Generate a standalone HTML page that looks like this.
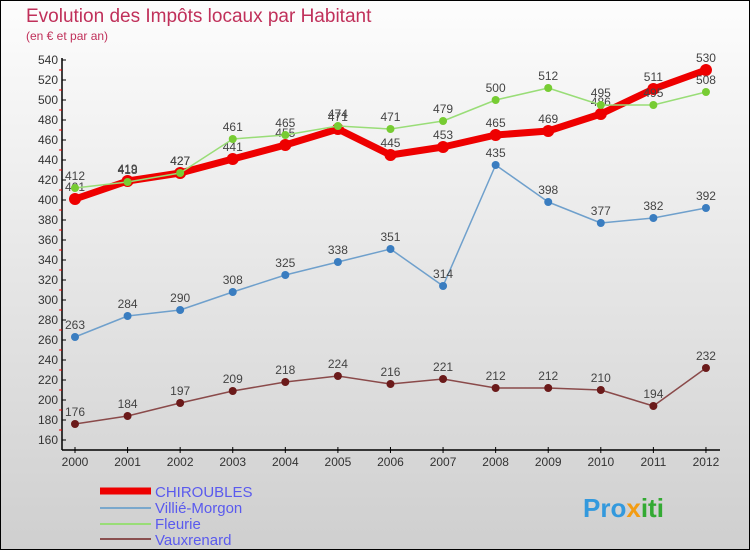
<!DOCTYPE html>
<html><head><meta charset="utf-8"><style>
body{margin:0;width:750px;height:550px;overflow:hidden}
svg{display:block;font-family:"Liberation Sans",sans-serif}
</style></head><body>
<svg width="750" height="550">
<defs><linearGradient id="bg" x1="0" y1="0" x2="0" y2="1"><stop offset="0" stop-color="#fdfdfd"/><stop offset="1" stop-color="#cfcfcf"/></linearGradient></defs>
<rect x="0.5" y="0.5" width="749" height="549" fill="url(#bg)" stroke="#000"/>
<text x="26" y="22" font-size="19" fill="#c0305a">Evolution des Impôts locaux par Habitant</text>
<text x="26" y="40" font-size="12" fill="#c0305a">(en € et par an)</text>
<g id="axes"></g>
<g id="series"></g>
<g>
<line x1="100" y1="491" x2="151" y2="491" stroke="#e00" stroke-width="7"/>
<line x1="100" y1="508" x2="151" y2="508" stroke="#7aa8cc" stroke-width="2"/>
<line x1="100" y1="524" x2="151" y2="524" stroke="#99dd77" stroke-width="2"/>
<line x1="100" y1="539" x2="151" y2="539" stroke="#8a5050" stroke-width="2"/>
<text x="155" y="497" font-size="15" fill="#5a5aee">CHIROUBLES</text>
<text x="155" y="513" font-size="15" fill="#5a5aee">Villié-Morgon</text>
<text x="155" y="529" font-size="15" fill="#5a5aee">Fleurie</text>
<text x="155" y="545" font-size="15" fill="#5a5aee">Vauxrenard</text>
</g>
<text x="583" y="517" font-size="26" font-weight="bold" fill="#3399dd">Pro<tspan fill="#f39c12">x</tspan><tspan fill="#33aa33">iti</tspan></text>
</svg>
<script>
const years=[2000,2001,2002,2003,2004,2005,2006,2007,2008,2009,2010,2011,2012];
const yTicks=[160,180,200,220,240,260,280,300,320,340,360,380,400,420,440,460,480,500,520,540];
const chiroubles=[401,419,427,441,455,471,445,453,465,469,486,511,530];
const villie=[263,284,290,308,325,338,351,314,435,398,377,382,392];
const fleurie=[412,418,427,461,465,474,471,479,500,512,495,495,508];
const vauxrenard=[176,184,197,209,218,224,216,221,212,212,210,194,232];
const NS="http://www.w3.org/2000/svg";
const xS=i=>75+i*52.58;
const yS=v=>440-(v-160);
function mk(t,a,p){const e=document.createElementNS(NS,t);for(const k in a)e.setAttribute(k,a[k]);p.appendChild(e);return e;}
const ax=document.getElementById('axes');
const yl=mk('line',{x1:62,y1:58,x2:62,y2:450,stroke:'#000','stroke-width':1.5},ax);


const xl=mk('line',{x1:62,y1:450,x2:720,y2:450,stroke:'#000','stroke-width':1.5},ax);


yTicks.forEach(v=>{
  mk('line',{x1:62,y1:yS(v),x2:66,y2:yS(v),stroke:'#000'},ax);
  if(v<540)mk('line',{x1:59,y1:yS(v+10),x2:62,y2:yS(v+10),stroke:'#e00'},ax);
  const t=mk('text',{x:58,y:yS(v)+4,'font-size':12,'text-anchor':'end',fill:'#333'},ax);
  t.textContent=v;
  
  
});
years.forEach((y,i)=>{
  mk('line',{x1:xS(i),y1:447,x2:xS(i),y2:453,stroke:'#000'},ax);
  const t=mk('text',{x:xS(i),y:466,'font-size':12,'text-anchor':'middle',fill:'#333'},ax);
  t.textContent=y;
  
  
});
const sg=document.getElementById('series');
function draw(vals,name,col,w,dot,dotcol,r){
  const g=mk('g',{},sg);
  
  
  const p=mk('polyline',{points:vals.map((v,i)=>xS(i)+','+yS(v)).join(' '),fill:'none',stroke:col,'stroke-width':w,'stroke-linejoin':'round'},g);
  
  
  vals.forEach((v,i)=>{
    const c=mk('circle',{cx:xS(i),cy:yS(v),r:r,fill:dotcol},g);
    
    
    const t=mk('text',{x:xS(i),y:yS(v)-8,'font-size':12,'text-anchor':'middle',fill:'#444'},g);
    t.textContent=v;
    
    
  });
}
draw(vauxrenard,'vauxrenard','#8a4a4a',1.5,true,'#6b1a1a',4);
draw(villie,'villie','#6fa0cc',1.5,true,'#3a7dc0',4);
draw(chiroubles,'chiroubles','#ee0000',7,true,'#ee0000',6);
draw(fleurie,'fleurie','#99dd77',1.5,true,'#77cc33',4);
</script>
</body></html>
